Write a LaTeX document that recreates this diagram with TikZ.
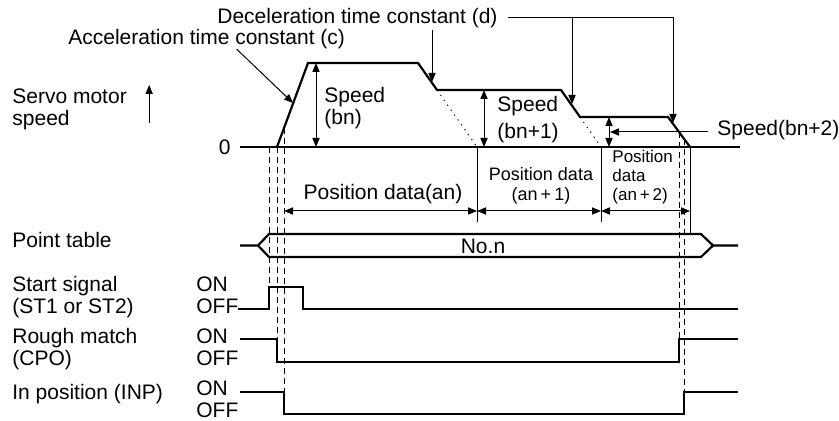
\documentclass[tikz,border=0pt]{standalone}
\usepackage{fontspec}
\setmainfont{Liberation Sans}
\usetikzlibrary{arrows.meta}

\tikzset{
  >={Triangle[length=4.5pt,width=3.6pt]},
  wave/.style={line width=1.1pt},
  fine/.style={line width=0.5pt},
  guide/.style={line width=0.5pt, dash pattern=on 3pt off 2pt},
  dots/.style={line width=0.5pt, dash pattern=on 0.6pt off 2.4pt},
  txt/.style={inner sep=0pt, align=left, font=\fontsize{10.5}{11}\selectfont},
  smalltxt/.style={inner sep=0pt, align=center, font=\fontsize{9}{10}\selectfont},
  tinytxt/.style={inner sep=0pt, align=left, font=\fontsize{8.5}{9.5}\selectfont},
}

\begin{document}
\begin{tikzpicture}[x=0.5pt, y=-0.5pt]
    \useasboundingbox (0,0) rectangle (839,421);

    % Speed profile
    \coordinate (p0) at (277,147);
    \coordinate (p1) at (308,63);
    \coordinate (p2) at (418,63);
    \coordinate (p3) at (437,90);
    \coordinate (p4) at (561,90);
    \coordinate (p5) at (580,117);
    \coordinate (p6) at (668,117);
    \coordinate (p7) at (690,147);

    \node[txt, anchor=east] (zero) at (231,147) {0};
    \coordinate (axisend) at (740,147);
    \draw[wave] ([xshift=4.5pt]zero.east) -- (axisend);
    \draw[wave] (p0) -- (p1) -- (p2) -- (p3) -- (p4) -- (p5) -- (p6) -- (p7);
    \draw[dots] (p3) -- (477,147);
    \draw[dots] (p5) -- (601,147);

    \node[txt, anchor=west] (servo) at (12,109) {Servo motor\\speed};
    \draw[fine, ->] ([xshift=11pt,yshift=-7pt]servo.east) -- ([xshift=11pt,yshift=12pt]servo.east);

    % Speed levels
    \draw[fine, <->] (316,63) -- (316,147);
    \node[txt, anchor=west] (sbn) at (324,108) {Speed\\(bn)};
    \draw[fine, <->] (484,90) -- (484,147);
    \node[txt, anchor=west] (sbn1) at (497,120) {Speed\\[2.5pt](bn+1)};
    \draw[fine, <->] (609,117) -- (609,147);
    \node[txt, anchor=west] (sbn2) at (717,130) {Speed(bn+2)};
    \coordinate (s2tip) at (610,132);
    \draw[fine, ->] (sbn2.west -| 708,0) ++(0,2) -- (s2tip);

    % Time constants
    \node[txt, anchor=west] (acc) at (68,39) {Acceleration time constant (c)};
    \coordinate (atip) at (293,103);
    \draw[fine, ->] ([xshift=15pt]acc.south) -- (atip);

    \node[txt, anchor=west] (dec) at (217,18) {Deceleration time constant (d)};
    \coordinate (dtip1) at (432,82);
    \coordinate (dtip2) at (572,104);
    \coordinate (dtip3) at (673,123);
    \draw[fine, ->] (dec.south -| dtip1) ++(0,2) -- (dtip1);
    \draw[fine, ->] ([xshift=5pt]dec.east) -| (dtip3);
    \draw[fine, ->] (dec.east -| dtip2) -- (dtip2);

    % Timing guides
    \draw[guide] (269,147) -- (269,287);
    \draw[guide] (277,147) -- (277,339);
    \draw[guide] (284,128) -- (284,392);
    \draw[guide] (679,132) -- (679,339);
    \draw[guide] (684,139) -- (684,392);

    % Position data
    \draw[fine] (477,147) -- (477,222);
    \draw[fine] (601,147) -- (601,222);
    \draw[fine] (690,147) -- (690,234);
    \draw[fine, <->] (284,211) -- (477,211);
    \draw[fine, <->] (477,211) -- (601,211);
    \draw[fine, <->] (601,211) -- (690,211);
    \node[txt] (pan) at (383,194) {Position data(an)};
    \node[smalltxt] (pan1) at (541,186) {Position data\\(an\,+\,1)};
    \node[tinytxt, anchor=west] (pan2) at (612,177) {Position\\data\\(an\,+\,2)};

    % Point table
    \node[txt, anchor=west] (ptab) at (12,240) {Point table};
    \draw[wave] (240,245.5) -- (258,245.5) -- (269,234) -- (701,234) -- (713,245.5) -- (738,245.5);
    \draw[wave] (258,245.5) -- (269,257) -- (701,257) -- (713,245.5);
    \node[txt] (non) at (483,246) {No.n};

    % Start signal
    \node[txt, anchor=west] (st) at (12,297) {Start signal\\(ST1 or ST2)};
    \node[txt, anchor=west] (ston) at (196,284.5) {ON};
    \node[txt, anchor=west] (stoff) at (196,306) {OFF};
    \draw[wave] (238,309) -- (269,309) -- (269,287) -- (303,287) -- (303,309) -- (738,309);

    % Rough match
    \node[txt, anchor=west] (cpo) at (12,349) {Rough match\\(CPO)};
    \node[txt, anchor=west] (cpoon) at (196,336) {ON};
    \node[txt, anchor=west] (cpooff) at (196,358) {OFF};
    \draw[wave] (240,339) -- (277,339) -- (277,362) -- (679,362) -- (679,339) -- (738,339);

    % In position
    \node[txt, anchor=west] (inp) at (12,394.5) {In position (INP)};
    \node[txt, anchor=west] (inpon) at (196,388) {ON};
    \node[txt, anchor=west] (inpoff) at (196,410) {OFF};
    \draw[wave] (240,392) -- (284,392) -- (284,414) -- (684,414) -- (684,392) -- (738,392);

\end{tikzpicture}
\end{document}
